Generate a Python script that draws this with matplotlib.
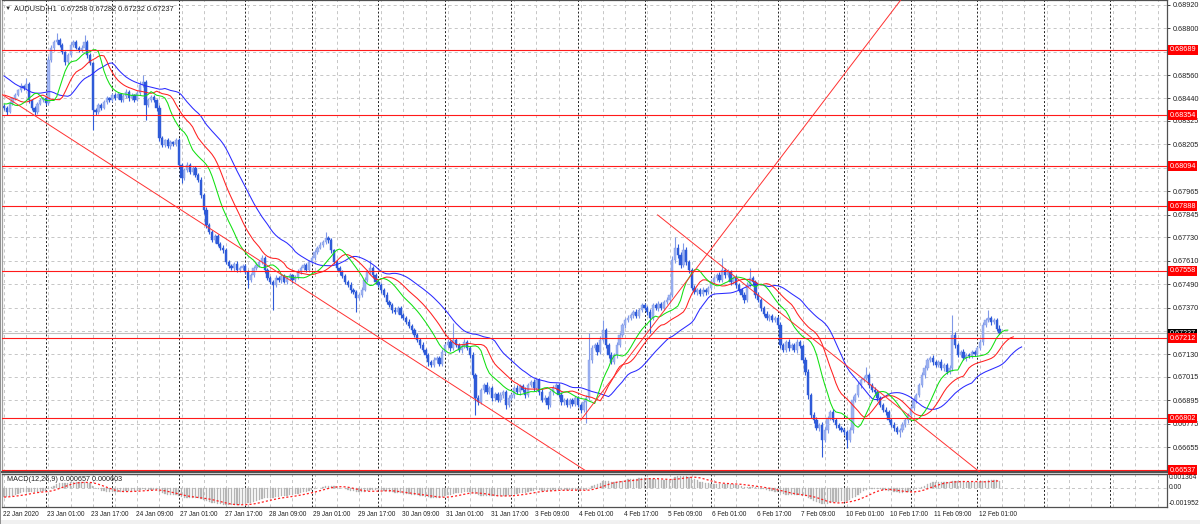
import numpy as np
import matplotlib
matplotlib.use("Agg")
import matplotlib.pyplot as plt
import matplotlib.transforms as mtransforms
from matplotlib.patches import Rectangle

plt.rcParams['font.family'] = ['Liberation Sans', 'DejaVu Sans']
plt.rcParams['lines.scale_dashes'] = False

# ---------------- data ----------------
symbol_text = "AUDUSD,H1  0.67258 0.67282 0.67232 0.67237"
macd_text = "MACD(12,26,9) 0.000657 0.000603"

first_open_pts = 68400
# hourly closes in points (1e-5), 22 Jan 09:00 .. 12 Feb 08:00
close_pts = (
    [68391, 68371, 68417, 68442, 68458, 68483, 68504, 68494, 68514, 68432, 68391, 68371, 68412, 68432, 68442] +
    [68417, 68637, 68698, 68729, 68739, 68714, 68678, 68627, 68662, 68714, 68729, 68698, 68688, 68698, 68729, 68662,
     68622, 68381, 68371, 68407, 68391, 68422, 68442, 68432] +
    [68458, 68442, 68463, 68432, 68453, 68473, 68442, 68458, 68432, 68468, 68509, 68524, 68407, 68432, 68448, 68432,
     68391, 68238, 68202, 68227, 68197, 68217, 68207, 68227] +
    [68099, 68033, 68074, 68099, 68064, 68084, 68048, 68023, 67946, 67869, 67792, 67757, 67716, 67736, 67695, 67675,
     67664, 67603, 67583, 67572, 67593, 67562, 67572, 67583] +
    [67552, 67511, 67536, 67572, 67588, 67603, 67624, 67562, 67521, 67501, 67485, 67521, 67511, 67531, 67501, 67521,
     67536, 67511, 67526, 67552, 67572, 67588, 67562, 67603] +
    [67624, 67654, 67675, 67690, 67705, 67726, 67716, 67664, 67603, 67572, 67552, 67531, 67501, 67485, 67460, 67449,
     67419, 67434, 67460, 67511, 67552, 67572, 67536, 67501] +
    [67485, 67460, 67434, 67398, 67383, 67357, 67347, 67368, 67332, 67316, 67296, 67275, 67255, 67229, 67204, 67178,
     67153, 67127, 67091, 67076, 67101, 67112, 67081, 67142] +
    [67178, 67194, 67163, 67204, 67178, 67153, 67173, 67194, 67163, 67127, 67025, 66907, 66887, 66948, 66974, 66938,
     66958, 66907, 66927, 66897, 66922, 66938, 66871, 66907] +
    [66922, 66958, 66938, 66968, 66948, 66922, 66974, 66989, 66958, 66999, 66938, 66897, 66907, 66871, 66938, 66958,
     66974, 66922, 66887, 66897, 66871, 66897, 66876, 66907] +
    [66871, 66846, 66887, 66907, 67101, 67163, 67178, 67142, 67204, 67255, 67178, 67127, 67091, 67127, 67178, 67229,
     67281, 67306, 67316, 67332, 67347, 67327, 67357, 67383] +
    [67368, 67347, 67316, 67383, 67368, 67388, 67368, 67398, 67409, 67434, 67613, 67675, 67639, 67588, 67664, 67603,
     67562, 67470, 67449, 67460, 67439, 67460, 67449, 67470] +
    [67501, 67521, 67536, 67511, 67562, 67536, 67552, 67501, 67521, 67485, 67460, 67434, 67409, 67485, 67521, 67501,
     67434, 67409, 67368, 67337, 67316, 67327, 67306, 67316] +
    [67281, 67178, 67153, 67194, 67163, 67178, 67153, 67194, 67173, 67101, 67040, 66922, 66820, 66794, 66753, 66769,
     66692, 66743, 66805, 66835, 66794, 66769, 66753, 66743] +
    [66733, 66692, 66743, 66897, 66922, 66974, 66999, 67009, 67025, 66974, 66948, 66938, 66907, 66871, 66846, 66835,
     66794, 66769, 66753, 66733, 66743, 66769, 66794, 66820] +
    [66856, 66897, 66922, 66974, 67025, 67061, 67101, 67112, 67091, 67076, 67091, 67061, 67076, 67040, 67061, 67229,
     67178, 67127, 67142, 67112, 67127, 67122, 67142, 67132] +
    [67163, 67194, 67281, 67306, 67316, 67296, 67306, 67258, 67237]
)
up_wick_pts = (
    [10, 8, 12, 6, 10, 8, 14, 6, 31, 8, 6, 10, 12, 8, 6] +
    [8, 20, 14, 10, 36, 8, 12, 6, 10, 15, 8, 12, 10, 14, 36, 8, 10, 6, 8, 12, 10, 8, 10, 6] +
    [8, 10, 12, 6, 10, 14, 8, 10, 6, 12, 18, 36, 8, 10, 12, 8, 6, 14, 10, 8, 12, 10, 6, 10] +
    [12, 10, 8, 14, 10, 12, 8, 10, 14, 12, 16, 10, 12, 8, 10, 12, 14, 10, 8, 12, 10, 14, 8, 10] +
    [10, 8, 12, 10, 14, 12, 15, 8, 10, 12, 8, 14, 10, 12, 8, 10, 12, 8, 10, 14, 12, 10, 8, 12] +
    [10, 12, 8, 14, 10, 31, 12, 10, 8, 12, 10, 8, 12, 10, 14, 8, 10, 12, 14, 16, 10, 41, 8, 10] +
    [12, 10, 8, 14, 10, 12, 16, 10, 8, 12, 10, 14, 12, 8, 10, 12, 14, 10, 8, 12, 16, 10, 12, 18] +
    [10, 14, 12, 87, 10, 12, 8, 14, 10, 12, 14, 10, 16, 12, 10, 14, 12, 10, 8, 12, 14, 10, 12, 14] +
    [12, 10, 14, 12, 10, 16, 12, 10, 14, 12, 10, 14, 16, 10, 12, 14, 10, 12, 14, 10, 12, 8, 12, 10] +
    [10, 12, 10, 14, 139, 16, 12, 14, 18, 51, 12, 10, 14, 12, 16, 14, 12, 10, 14, 12, 10, 14, 12, 10] +
    [12, 10, 14, 12, 10, 14, 12, 10, 14, 12, 20, 56, 18, 14, 36, 16, 12, 10, 14, 12, 10, 14, 12, 10] +
    [14, 12, 10, 14, 61, 12, 14, 10, 12, 14, 10, 12, 14, 16, 51, 12, 10, 14, 12, 10, 14, 12, 10, 12] +
    [12, 14, 10, 12, 14, 10, 12, 14, 10, 12, 14, 16, 12, 14, 18, 12, 14, 16, 12, 10, 14, 12, 10, 12] +
    [12, 10, 14, 18, 12, 14, 10, 12, 41, 12, 10, 14, 12, 10, 12, 14, 10, 12, 14, 10, 12, 14, 10, 12] +
    [12, 14, 10, 12, 14, 16, 12, 10, 14, 12, 10, 14, 12, 10, 14, 102, 16, 12, 10, 14, 12, 10, 12, 10] +
    [12, 14, 16, 12, 41, 12, 10, 12, 24]
)
down_wick_pts = (
    [12, 18, 6, 10, 8, 6, 10, 12, 8, 14, 10, 16, 8, 6, 10] +
    [10, 12, 8, 14, 10, 12, 8, 16, 10, 8, 12, 6, 10, 8, 12, 14, 10, 102, 18, 8, 10, 6, 12, 8] +
    [10, 8, 6, 12, 8, 10, 14, 8, 10, 6, 8, 10, 77, 12, 8, 10, 14, 18, 10, 12, 8, 14, 10, 8] +
    [10, 26, 12, 8, 10, 14, 10, 12, 16, 18, 14, 12, 10, 14, 12, 10, 16, 12, 10, 8, 14, 10, 12, 8] +
    [12, 41, 10, 8, 12, 10, 8, 14, 12, 10, 128, 12, 10, 14, 8, 12, 10, 14, 8, 10, 12, 8, 10, 12] +
    [8, 10, 12, 8, 10, 12, 14, 16, 12, 10, 14, 12, 10, 8, 14, 12, 72, 10, 12, 8, 10, 12, 14, 10] +
    [10, 14, 12, 10, 8, 14, 10, 12, 16, 10, 12, 8, 14, 12, 10, 16, 12, 14, 18, 12, 10, 14, 12, 8] +
    [12, 10, 14, 8, 12, 10, 14, 12, 10, 14, 18, 87, 16, 12, 14, 10, 12, 16, 14, 12, 10, 14, 20, 12] +
    [10, 14, 12, 16, 12, 14, 10, 12, 14, 10, 16, 12, 10, 18, 12, 14, 10, 12, 14, 16, 12, 14, 10, 12] +
    [12, 14, 12, 108, 10, 14, 12, 16, 10, 12, 14, 18, 12, 10, 14, 12, 10, 14, 12, 10, 14, 12, 10, 12] +
    [10, 14, 77, 12, 10, 14, 12, 10, 12, 14, 12, 16, 14, 18, 12, 14, 16, 12, 10, 14, 12, 10, 14, 12] +
    [12, 10, 14, 12, 10, 14, 12, 16, 12, 14, 12, 10, 16, 12, 10, 14, 16, 12, 14, 12, 10, 14, 12, 10] +
    [14, 16, 12, 10, 14, 12, 10, 14, 12, 16, 18, 20, 14, 16, 12, 14, 87, 12, 14, 10, 12, 14, 12, 10] +
    [14, 41, 12, 16, 12, 10, 14, 12, 10, 14, 12, 10, 14, 12, 10, 14, 12, 10, 14, 12, 26, 12, 10, 14] +
    [10, 12, 14, 12, 10, 14, 12, 10, 14, 12, 10, 12, 14, 10, 12, 14, 16, 12, 10, 12, 14, 10, 12, 10] +
    [10, 12, 14, 12, 10, 14, 12, 10, 5]
)

time_labels = ["22 Jan 2020", "23 Jan 01:00", "23 Jan 17:00", "24 Jan 09:00", "27 Jan 01:00",
               "27 Jan 17:00", "28 Jan 09:00", "29 Jan 01:00", "29 Jan 17:00", "30 Jan 09:00",
               "31 Jan 01:00", "31 Jan 17:00", "3 Feb 09:00", "4 Feb 01:00", "4 Feb 17:00",
               "5 Feb 09:00", "6 Feb 01:00", "6 Feb 17:00", "7 Feb 09:00", "10 Feb 01:00",
               "10 Feb 17:00", "11 Feb 09:00", "12 Feb 01:00"]
bars_per_label = 16
bars_per_grid = 8
first_midnight_bar = 15
bars_per_day = 24

price_ticks = [0.68920, 0.68800, 0.68680, 0.68560, 0.68440, 0.68325, 0.68205, 0.68085, 0.67965, 0.67845,
               0.67730, 0.67610, 0.67490, 0.67370, 0.67250, 0.67130, 0.67015, 0.66895, 0.66775, 0.66655]
hidden_tick_labels = [0.68680, 0.68085, 0.67250]   # covered by level boxes in the reference
level_prices = [0.68689, 0.68354, 0.68094, 0.67888, 0.67558, 0.67212, 0.66802, 0.66537]
bid_price = 0.67237
price_range = (0.66528, 0.68944)
macd_range = (-0.001952, 0.001364)
macd_ticks = [0.001364, 0.0, -0.001952]
macd_tick_labels = ["0.001364", "0.00", "-0.001952"]

# trend lines: (bar index, price) anchors
trend_lines = [
    [(-1.5, 0.68467), (209.5, 0.66537)],
    [(208.0, 0.66794), (323.4, 0.68944)],
    [(235.7, 0.67844), (352.6, 0.66520)],
]

# Alligator values at the left edge
jaw_lead = [0.68555, 0.68545, 0.68535, 0.68524, 0.68514, 0.68506, 0.68499, 0.68494]
teeth_lead = [0.68458, 0.68453, 0.68448, 0.68442, 0.68437]
lips_lead = [0.68412, 0.68412, 0.68417]

# ---------------- computations ----------------
close = np.array(close_pts) / 1e5
N = len(close)
open_ = np.r_[first_open_pts / 1e5, close[:-1]]
high = np.maximum(open_, close) + np.array(up_wick_pts) / 1e5
low = np.minimum(open_, close) - np.array(down_wick_pts) / 1e5
median = (high + low) / 2
idx = np.arange(N)


def smma(values, n, seed):
    out = np.empty(len(values))
    prev = seed
    for k, v in enumerate(values):
        prev = (prev * (n - 1) + v) / n
        out[k] = prev
    return out


def ema(values, n, seed):
    a = 2.0 / (n + 1)
    out = np.empty(len(values))
    prev = seed
    for k, v in enumerate(values):
        prev = prev + a * (v - prev)
        out[k] = prev
    return out


def shifted(lead, n):
    shift = len(lead)
    vals = smma(median, n, lead[-1])
    xs = np.r_[np.arange(shift), idx + shift]
    ys = np.r_[lead, vals]
    return xs, ys


jaw_x, jaw_y = shifted(jaw_lead, 13)
teeth_x, teeth_y = shifted(teeth_lead, 8)
lips_x, lips_y = shifted(lips_lead, 5)

ema12 = ema(close, 12, teeth_lead[0])
ema26 = ema(close, 26, jaw_lead[0])
macd = ema12 - ema26
signal = np.array([macd[max(0, k - 8):k + 1].mean() for k in range(N)])

# ---------------- figure ----------------
W, H = 1200, 524
fig = plt.figure(figsize=(W / 100, H / 100), dpi=100)
fig.patch.set_facecolor('white')

left_px, right_px = 2, 1167
main_top, main_bot = 0, 472
macd_top, macd_bot = 474, 507

ax = fig.add_axes([left_px / W, 1 - main_bot / H, (right_px - left_px) / W, (main_bot - main_top) / H])
ax2 = fig.add_axes([left_px / W, 1 - macd_bot / H, (right_px - left_px) / W, (macd_bot - macd_top) / H])

bar_px = 2.7726
x0_px = 4.1
xlim = ((left_px - x0_px) / bar_px, (right_px - x0_px) / bar_px)

grid_col = '#c6c6c6'
sep_col = '#202020'
for a in (ax, ax2):
    a.set_xlim(*xlim)
    a.set_facecolor('white')
    for g in np.arange(0, xlim[1], bars_per_grid):
        a.axvline(g, color=grid_col, lw=0.7, ls=(0, (2.2, 2.2)), zorder=0.5)
    for s in np.arange(first_midnight_bar, xlim[1], bars_per_day):
        a.axvline(s, color=sep_col, lw=0.7, ls=(0, (1.4, 1.4)), zorder=0.6)
    for sp in a.spines.values():
        sp.set_color('#505050')
        sp.set_linewidth(0.9)
    a.spines['left'].set_color('#a0a0a0')
ax.spines['bottom'].set_linewidth(1.6)
ax2.spines['top'].set_linewidth(1.0)

# main panel
ax.set_ylim(*price_range)
for p in price_ticks:
    ax.axhline(p, color=grid_col, lw=0.7, ls=(0, (2.2, 2.2)), zorder=0.5)

bull = close >= open_
bear = ~bull
body_bottom = np.minimum(open_, close)
body_h = np.maximum(np.abs(close - open_), 0.000012)
bull_col, bull_edge = '#9db2f0', '#8099e8'
bear_col = '#2f5bd8'
ax.vlines(idx[bull], low[bull], high[bull], color=bull_edge, lw=0.8, zorder=1.9)
ax.vlines(idx[bear], low[bear], high[bear], color=bear_col, lw=0.8, zorder=1.9)
ax.bar(idx[bull], body_h[bull], bottom=body_bottom[bull], width=0.82, color=bull_col,
       edgecolor=bull_edge, linewidth=0.3, zorder=2)
ax.bar(idx[bear], body_h[bear], bottom=body_bottom[bear], width=0.82, color=bear_col,
       edgecolor=bear_col, linewidth=0.3, zorder=2)

ax.plot(jaw_x, jaw_y, color='#2a2aff', lw=0.75, zorder=3)
ax.plot(teeth_x, teeth_y, color='#ff2020', lw=0.75, zorder=3)
ax.plot(lips_x, lips_y, color='#10e010', lw=0.75, zorder=3)

ax.axhline(bid_price, color='#c0c0c0', lw=0.8, zorder=1.5)
for lv in level_prices:
    ax.axhline(lv, color='#ff1a1a', lw=0.8, zorder=3.5)
for (x1, y1), (x2, y2) in trend_lines:
    ax.plot([x1, x2], [y1, y2], color='#ff3030', lw=0.7, zorder=3.6)

ax.yaxis.tick_right()
ax.set_yticks(price_ticks)
ax.set_yticklabels(["" if p in hidden_tick_labels else f"{p:.5f}" for p in price_ticks])
ax.tick_params(axis='y', which='both', length=2.5, width=0.7, color='#404040', pad=1.5,
               labelsize=5.2, labelcolor='#202020', left=False)
ax.tick_params(axis='x', length=0, labelbottom=False)

btrans = mtransforms.blended_transform_factory(ax.transAxes, ax.transData)
box_x = 1 + 2.5 / (right_px - left_px)
ax.text(box_x, bid_price, f"{bid_price:.5f}", transform=btrans, ha='left', va='center', fontsize=5.2,
        color='white', bbox=dict(boxstyle='square,pad=0.2', fc='black', ec='none'), zorder=5, clip_on=False)
for lv in level_prices:
    ax.text(box_x, lv, f"{lv:.5f}", transform=btrans, ha='left', va='center', fontsize=5.2,
            color='white', bbox=dict(boxstyle='square,pad=0.2', fc='#ff0000', ec='none'), zorder=6,
            clip_on=False)

fig.text(5 / W, 1 - 8.5 / H, "\u25bc", fontsize=4.5, color='#303030', va='center', ha='left')
fig.text(14 / W, 1 - 8.5 / H, symbol_text, fontsize=5.3, color='#202020', va='center', ha='left')

# MACD panel
ax2.set_ylim(*macd_range)
ax2.axhline(0, color=grid_col, lw=0.7, ls=(0, (2.2, 2.2)), zorder=0.5)
ax2.bar(idx, macd, width=0.45, color='#b8b8b8', edgecolor='#b0b0b0', linewidth=0.2, zorder=2)
ax2.plot(idx, signal, color='#ff2020', lw=0.9, ls=(0, (1.5, 1.5)), zorder=3)
ax2.set_yticks([])
ax2.tick_params(axis='x', length=0, labelbottom=False)
ax2.tick_params(axis='y', length=0)
t2 = mtransforms.blended_transform_factory(ax2.transAxes, ax2.transData)
vas = ['top', 'center', 'bottom']
for v, lab, va in zip(macd_ticks, macd_tick_labels, vas):
    ax2.text(1 + 1.5 / (right_px - left_px), v, lab, transform=t2, ha='left', va=va, fontsize=4.9,
             color='#202020', clip_on=False)
ax2.text(5 / (right_px - left_px), 0.82, macd_text, transform=ax2.transAxes, fontsize=5.2,
         color='#202020', va='center', ha='left')

# time labels
tt = mtransforms.blended_transform_factory(ax2.transData, fig.transFigure)
for k, lab in enumerate(time_labels):
    ax2.text(k * bars_per_label - 0.5, 1 - 515 / H, lab, transform=tt, ha='left', va='center',
             fontsize=4.7, color='#202020', clip_on=False)

# frame decorations
fig.patches.append(Rectangle((0, 0), 1, 4 / H, transform=fig.transFigure, fc='#f0f0f0', ec='none', zorder=0))
fig.patches.append(Rectangle((0, 0), 1.2 / W, 1, transform=fig.transFigure, fc='#909090', ec='none', zorder=0))

fig.savefig("out.png", dpi=100, facecolor='white')
